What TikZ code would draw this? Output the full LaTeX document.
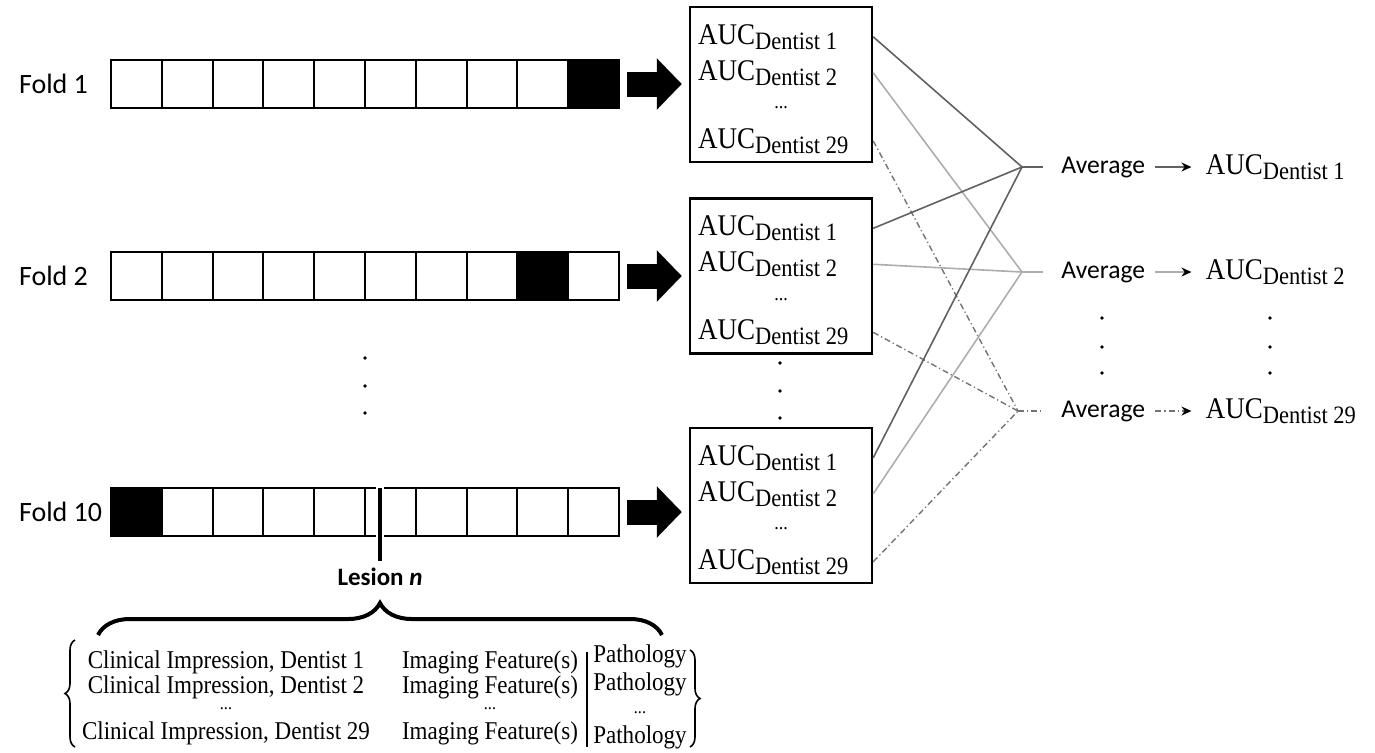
\documentclass[tikz,border=0pt]{standalone}
\usepackage{fontspec}
\setmainfont{Liberation Serif}[FakeStretch=0.9]
\newfontfamily\calibrifont{Carlito}
\usetikzlibrary{positioning, arrows.meta, decorations.pathreplacing}

\newcommand{\auc}[1]{{\fontsize{15pt}{17pt}\selectfont AUC}\raisebox{-2.5pt}{\fontsize{12.5pt}{14pt}\selectfont Dentist #1}}

\tikzset{
    fold-cell/.style = {draw, line width=1pt, fill=white, minimum width=25.4pt, minimum height=24pt, inner sep=0pt, outer sep=0pt},
    fold-label/.style = {font=\calibrifont\fontsize{14pt}{16pt}\selectfont, anchor=west},
    block-arrow/.style = {line width=12.5pt, -{Triangle[length=12.5pt, width=25pt]}},
    auc-box/.style = {draw, line width=1.2pt, minimum width=91pt, minimum height=77.5pt},
    auc-row/.style = {anchor=west, inner sep=0pt},
    avg-label/.style = {font=\calibrifont\fontsize{12.8pt}{15pt}\selectfont, inner sep=2pt},
    res-label/.style = {inner sep=2pt},
    conn-1/.style = {black!62, line width=0.8pt},
    conn-2/.style = {black!32, line width=0.8pt},
    conn-29/.style = {black!55, line width=0.7pt, dash pattern=on 3pt off 1.5pt on 0.6pt off 1.5pt},
    avg-arrow/.style = {shorten <=3pt, shorten >=5pt, -{Stealth[length=5pt, width=4.5pt, black]}},
    lesion-label/.style = {font=\calibrifont\bfseries\fontsize{12.5pt}{15pt}\selectfont},
    big-brace/.style = {decorate, decoration={brace, amplitude=16pt}, line width=2pt},
    small-brace/.style = {decorate, decoration={brace, amplitude=5pt}, line width=0.8pt},
    row-text/.style = {font=\fontsize{12.8pt}{14pt}\selectfont, inner sep=0pt},
    row-dots/.style = {font=\fontsize{9pt}{9pt}\selectfont, inner sep=0pt},
}

\begin{document}
\begin{tikzpicture}[x=0.5pt, y=-0.5pt]
\useasboundingbox (0,0) rectangle (1375,752);

% AUC boxes
\foreach \b/\y in {1/84.5, 2/276, 3/505.5} {
    \node[auc-box] (box\b) at (781,\y) {};
    \node[auc-row] (b\b-1) at ([xshift=4.5pt, yshift=-15.5pt]box\b.north west) {\auc{1}};
    \node[auc-row] (b\b-2) at ([xshift=4.5pt, yshift=-33.5pt]box\b.north west) {\auc{2}};
    \node[auc-row, anchor=center] (b\b-dots) at ([yshift=-51pt]box\b.north) {...};
    \node[auc-row] (b\b-29) at ([xshift=4.5pt, yshift=-67.5pt]box\b.north west) {\auc{29}};
}

% folds
\foreach \f/\y/\k/\b in {1/84/10/1, 2/276/9/2, 10/512/1/3} {
    \node[fold-label] (lab-\f) at (12,\y) {Fold \f};
    \foreach \i in {1,...,10}
        \node[fold-cell] (f\f-\i) at ({85.6+50.8*\i},\y) {};
    \node[fold-cell, fill=black] at (f\f-\k) {};
    \draw[block-arrow] ([xshift=4pt]f\f-10.east) -- ([xshift=-3.5pt]box\b.west |- f\f-10.east);
}

% vertical dots
\foreach \x/\y in {365/358, 365/386, 365/413, 780/363, 780/391, 780/418,
                   1102/318, 1102/347, 1102/373, 1270/318, 1270/347, 1270/373}
    \fill (\x,\y) circle (0.9pt);

% averaging
\coordinate (j-1) at (1022,167);
\coordinate (j-2) at (1022,272);
\coordinate (j-29) at (1018,411);
\foreach \b in {1,2,3} {
    \draw[conn-1] (box\b.east |- b\b-1) -- (j-1);
    \draw[conn-2] (box\b.east |- b\b-2) -- (j-2);
    \draw[conn-29] (box\b.east |- b\b-29) -- (j-29);
}
\foreach \r/\y in {1/167, 2/272, 29/411} {
    \node[avg-label, anchor=west] (avg-\r) at (1057,\y) {Average};
    \node[res-label, right=26pt of avg-\r] (res-\r) {\auc{\r}};
    \draw[conn-\r, shorten >=7pt] (j-\r) -- (avg-\r.west);
    \draw[conn-\r, avg-arrow] (avg-\r) -- (res-\r);
}

% lesion marker
\coordinate (lesion-top) at ([xshift=7.5pt]f10-6.north west);
\coordinate (lesion-bot) at ([yshift=-36.5pt]lesion-top);
\draw[white, line width=4pt] ([yshift=1pt]lesion-top) -- ([yshift=-25pt]lesion-top);
\draw[line width=2pt] (lesion-top) -- (lesion-bot);
\node[lesion-label, below=0pt of lesion-bot] (lesion) {Lesion \textit{n}};

\coordinate (brace-l) at (98,635);
\coordinate (brace-r) at (662,635);
\draw[big-brace] (brace-l) -- (brace-r);

% lesion record
\foreach \r/\y in {1/662, 2/687, 29/733} {
    \node[row-text] (ci-\r) at (226,\y) {Clinical Impression, Dentist \r};
    \node[row-text] (if-\r) at (490,\y) {Imaging Feature(s)};
}
\node[row-dots] (ci-dots) at (226,709) {...};
\node[row-dots] (if-dots) at (490,709) {...};
\foreach \r/\y in {1/656, 2/684, 29/737}
    \node[row-text] (pa-\r) at (640,\y) {Pathology};
\node[row-dots] (pa-dots) at (640,713) {...};

\coordinate (lb-top) at (75,640);
\coordinate (lb-bot) at (75,747);
\draw[small-brace] (lb-bot) -- (lb-top);
\coordinate (rb-top) at (690,650);
\coordinate (rb-bot) at (690,747);
\draw[small-brace] (rb-top) -- (rb-bot);
\coordinate (sep-top) at (587,652);
\coordinate (sep-bot) at (587,747);
\draw[line width=0.8pt] (sep-top) -- (sep-bot);
\end{tikzpicture}
\end{document}
